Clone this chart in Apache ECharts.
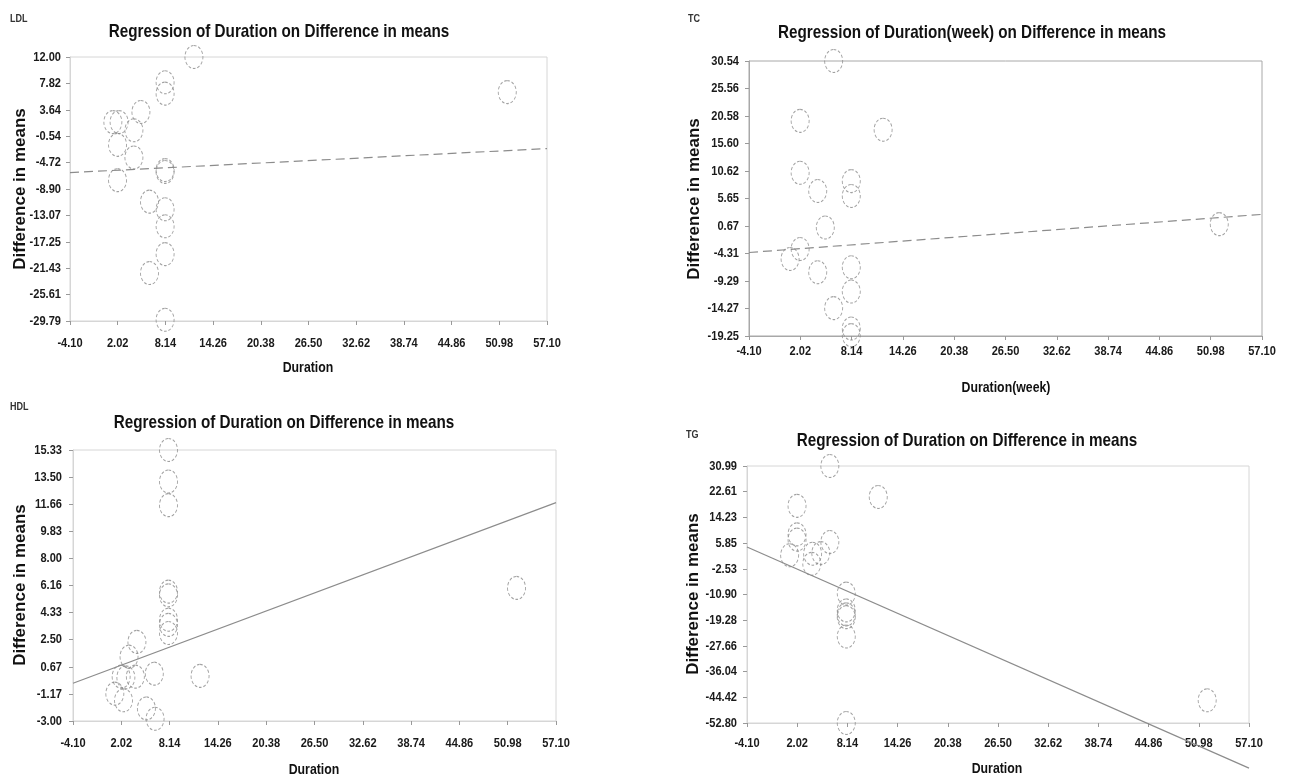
<!DOCTYPE html>
<html>
<head>
<meta charset="utf-8">
<script src="https://cdn.jsdelivr.net/npm/echarts@6/dist/echarts.min.js"></script>
<style>
html,body{margin:0;padding:0;background:#fff;}
#chart{width:1290px;height:778px;}
</style>
</head>
<body>
<div id="chart"></div>
<script>
// ---------- DATA ----------
const xTickLabels = ['-4.10','2.02','8.14','14.26','20.38','26.50','32.62','38.74','44.86','50.98','57.10'];

const ldlTicks = ['12.00','7.82','3.64','-0.54','-4.72','-8.90','-13.07','-17.25','-21.43','-25.61','-29.79'];
const tcTicks  = ['30.54','25.56','20.58','15.60','10.62','5.65','0.67','-4.31','-9.29','-14.27','-19.25'];
const hdlTicks = ['15.33','13.50','11.66','9.83','8.00','6.16','4.33','2.50','0.67','-1.17','-3.00'];
const tgTicks  = ['30.99','22.61','14.23','5.85','-2.53','-10.90','-19.28','-27.66','-36.04','-44.42','-52.80'];

const ldlDuration = [11.8, 8.1, 8.1, 5.0, 1.4, 2.2, 4.1, 2.0, 4.1, 8.1, 8.1, 2.0, 6.1, 8.1, 8.1, 8.1, 6.1, 8.1, 52.0];
const ldlDiff     = [12.0, 8.0, 6.2, 3.3, 1.7, 1.7, 0.4, -1.9, -3.9, -5.9, -6.2, -7.5, -10.9, -12.1, -14.8, -19.2, -22.2, -29.6, 6.45];

const tcDuration = [6.0, 2.0, 11.9, 2.0, 8.1, 8.1, 4.1, 5.0, 52.0, 2.0, 0.8, 4.1, 8.1, 8.1, 6.0, 8.1, 8.1];
const tcDiff     = [30.54, 19.7, 18.1, 10.3, 8.8, 6.1, 7.0, 0.4, 1.0, -3.5, -5.3, -7.7, -6.8, -11.2, -14.2, -17.9, -19.1];

const hdlDuration = [8.0, 8.0, 8.0, 8.0, 8.0, 8.0, 8.0, 8.0, 52.1, 4.0, 3.0, 2.0, 2.6, 3.8, 6.2, 12.0, 1.2, 2.3, 5.2, 6.3];
const hdlDiff     = [15.33, 13.2, 11.6, 5.75, 5.5, 3.85, 3.5, 2.95, 6.0, 2.35, 1.35, 0.0, -0.05, 0.0, 0.2, 0.05, -1.15, -1.6, -2.15, -2.85];

const tgDuration = [6.0, 11.9, 2.0, 2.0, 2.0, 6.0, 1.1, 3.9, 4.9, 3.8, 8.0, 8.0, 8.0, 8.0, 8.0, 8.0, 52.0];
const tgDiff     = [30.99, 20.9, 18.0, 8.7, 7.0, 6.2, 1.9, 2.4, 2.6, -0.9, -10.6, -16.1, -17.4, -18.3, -24.6, -52.8, -45.4];

// regression line end points (x at axis min / max)
const regX = [-4.10, 57.10];
const ldlReg = [-6.3, -2.5];
const tcReg  = [-4.13, 2.77];
const hdlReg = [-0.45, 11.77];
const tgReg  = [4.58, -67.5];

const panelNames = ['LDL', 'TC', 'HDL', 'TG'];
const panelTitles = ['Regression of Duration on Difference in means',
                     'Regression of Duration(week) on Difference in means',
                     'Regression of Duration on Difference in means',
                     'Regression of Duration on Difference in means'];
const xNames = ['Duration', 'Duration(week)', 'Duration', 'Duration'];
const yName = 'Difference in means';

// ---------- LAYOUT ----------
const grids = [
  {left: 70,  top: 57,  width: 477, height: 264, frame: '#d6d6d6', xOff: 22, yGap: 9},
  {left: 749, top: 61,  width: 513, height: 275, frame: '#a8a8a8', xOff: 15, yGap: 10},
  {left: 73,  top: 450, width: 483, height: 271, frame: '#d6d6d6', xOff: 22, yGap: 11},
  {left: 747, top: 466, width: 502, height: 257, frame: '#d6d6d6', xOff: 20, yGap: 10}
];
const labelPos = [[10,19],[688,19],[10,407],[686,435]];
const titlePos = [[279,32],[972,33],[284,423],[967,441]];
const yTitlePos = [[20,189],[694,199],[20,585],[693,594]];
const xTitlePos = [[308,368],[1006,388],[314,770],[997,769]];

const wide = '"Liberation Sans",Arial,sans-serif';
const NARROW_SCALE = 0.82;

const yTickSets = [ldlTicks, tcTicks, hdlTicks, tgTicks];
const xs = [ldlDuration, tcDuration, hdlDuration, tgDuration];
const ys = [ldlDiff, tcDiff, hdlDiff, tgDiff];
const regs = [ldlReg, tcReg, hdlReg, tgReg];
const regDashed = [true, true, false, false];

const xMin = Number(xTickLabels[0]);
const xMax = Number(xTickLabels[xTickLabels.length - 1]);
const xInt = +((xMax - xMin) / (xTickLabels.length - 1)).toFixed(4);

const option = {
  animation: false,
  backgroundColor: '#fff',
  grid: [], xAxis: [], yAxis: [], series: [], graphic: []
};
const yRanges = [];

grids.forEach((g, i) => {
  option.grid.push({left: g.left, top: g.top, width: g.width, height: g.height,
    show: true, borderColor: g.frame, borderWidth: 1, backgroundColor: 'transparent'});
  option.xAxis.push({
    type: 'value', gridIndex: i, min: xMin, max: xMax, interval: xInt,
    axisLine: {show: true, onZero: false, lineStyle: {color: g.frame, width: 1}},
    axisTick: {show: true, length: 4, lineStyle: {color: '#999'}},
    splitLine: {show: false},
    axisLabel: {show: false}
  });
  const t = yTickSets[i];
  const yMin = Number(t[t.length - 1]), yMax = Number(t[0]);
  const yInt = +((yMax - yMin) / (t.length - 1)).toFixed(4);
  yRanges.push([yMin, yInt]);
  option.yAxis.push({
    type: 'value', gridIndex: i, min: yMin, max: yMax, interval: yInt,
    axisLine: {show: true, onZero: false, lineStyle: {color: g.frame, width: 1}},
    axisTick: {show: true, length: 4, lineStyle: {color: '#999'}},
    splitLine: {show: false},
    axisLabel: {show: false}
  });
  option.series.push({
    type: 'scatter', xAxisIndex: i, yAxisIndex: i,
    data: xs[i].map((x, k) => [x, ys[i][k]]),
    symbol: 'path://M0,-1A1,1,0,1,1,0,1A1,1,0,1,1,0,-1Z',
    symbolSize: [18, 23], symbolKeepAspect: false,
    clip: false,
    itemStyle: {color: 'rgba(0,0,0,0)', borderColor: '#8a8a8a', borderWidth: 1, borderType: [3, 2]},
    emphasis: {disabled: true}, silent: true, z: 3
  });
  option.series.push({
    type: 'line', xAxisIndex: i, yAxisIndex: i,
    data: regX.map((x, k) => [x, regs[i][k]]),
    symbol: 'none', clip: false, silent: true,
    lineStyle: {color: '#8c8c8c', width: 1.2, type: regDashed[i] ? [9, 5] : 'solid'},
    z: 2
  });
  option.graphic.push({type: 'text', x: labelPos[i][0], y: labelPos[i][1], scaleX: NARROW_SCALE,
    style: {text: panelNames[i], font: 'bold 11px ' + wide, fill: '#333', align: 'left', verticalAlign: 'middle'}});
  option.graphic.push({type: 'text', x: titlePos[i][0], y: titlePos[i][1], scaleX: NARROW_SCALE,
    style: {text: panelTitles[i], font: 'bold 18.6px ' + wide, fill: '#111', align: 'center', verticalAlign: 'middle'}});
  option.graphic.push({type: 'text', x: yTitlePos[i][0], y: yTitlePos[i][1], rotation: Math.PI / 2,
    style: {text: yName, font: 'bold 17px ' + wide, fill: '#111', align: 'center', verticalAlign: 'middle'}});
  option.graphic.push({type: 'text', x: xTitlePos[i][0], y: xTitlePos[i][1], scaleX: NARROW_SCALE,
    style: {text: xNames[i], font: 'bold 15px ' + wide, fill: '#111', align: 'center', verticalAlign: 'middle'}});
});

const chart = echarts.init(document.getElementById('chart'), null, {renderer: 'canvas'});
chart.setOption(option);

// tick labels placed through the axes' own scales (narrow bold text)
const tickFont = 'bold 13.5px ' + wide;
grids.forEach((g, i) => {
  xTickLabels.forEach((lab, k) => {
    const v = xMin + k * xInt;
    const px = chart.convertToPixel({xAxisIndex: i}, v);
    option.graphic.push({type: 'text', x: px, y: g.top + g.height + g.xOff, scaleX: NARROW_SCALE,
      style: {text: lab, font: tickFont, fill: '#1a1a1a', align: 'center', verticalAlign: 'middle'}});
  });
  const t = yTickSets[i];
  const [yMin, yInt] = yRanges[i];
  t.forEach((lab, k) => {
    const v = yMin + (t.length - 1 - k) * yInt;
    const py = chart.convertToPixel({yAxisIndex: i}, v);
    option.graphic.push({type: 'text', x: g.left - g.yGap, y: py, scaleX: NARROW_SCALE,
      style: {text: lab, font: tickFont, fill: '#1a1a1a', align: 'right', verticalAlign: 'middle'}});
  });
});
chart.setOption({graphic: option.graphic});
</script>
</body>
</html>
